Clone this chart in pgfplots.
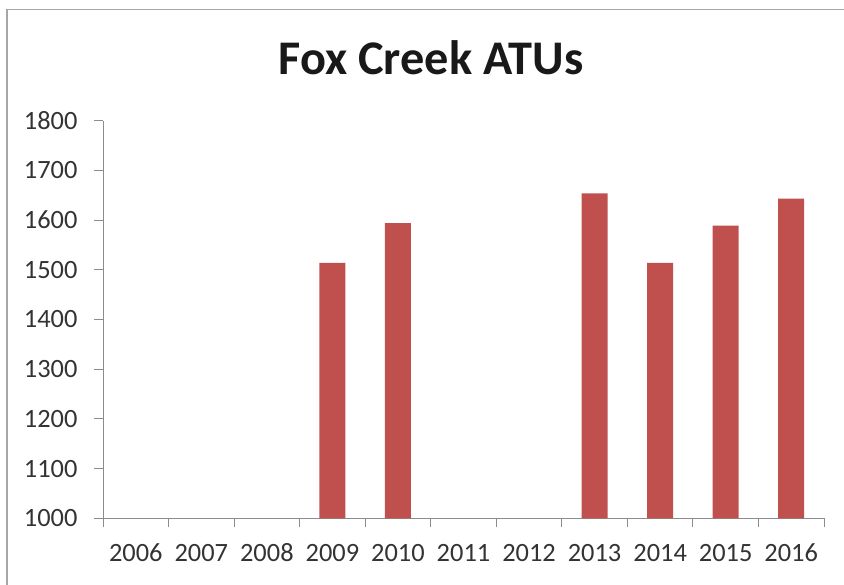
\documentclass[border=0pt]{standalone}
\usepackage{fontspec}
\setmainfont{Carlito}
\usepackage{pgfplots}
\pgfplotsset{compat=1.18}
\definecolor{barred}{HTML}{C0504D}
\definecolor{axisgray}{HTML}{8C8C8C}
\begin{document}
\begin{tikzpicture}[x=1bp,y=1bp]
\useasboundingbox (0,0) rectangle (844,585);
\draw[gray!70, line width=1.5bp] (7,0) -- (7,575.5) -- (844,575.5);
\node[font=\fontsize{48.5}{56}\selectfont\bfseries, anchor=base, text=black!90] at (431,510) {Fox Creek ATUs};
\begin{axis}[
  at={(103bp,66.7bp)}, anchor=south west,
  scale only axis, width=721bp, height=397.6bp,
  xmin=-0.5, xmax=10.5, ymin=1000, ymax=1800,
  ytick={1000,1100,...,1800},
  xtick={-0.5,0.5,...,10.5},
  xticklabels={2006,2007,2008,2009,2010,2011,2012,2013,2014,2015,2016,{}},
  axis x line*=bottom, axis y line*=left,
  axis line style={-, axisgray, line width=1bp},
  tick align=outside,
  tick style={axisgray, line width=1bp},
  major tick length=9bp,
  tick label style={font=\fontsize{26.5}{30}\selectfont, text=black!80},
  xticklabel style={text height=18bp, text depth=0bp, xshift=32.77bp, yshift=-13bp},
  yticklabel style={xshift=-13bp},
  /pgf/number format/assume math mode=true,
  /pgf/number format/1000 sep={},
  ybar, bar width=26bp,
  clip=true,
]
\addplot[fill=barred, draw=none] coordinates {(3,1514) (4,1594) (7,1654) (8,1514) (9,1589) (10,1643)};
\end{axis}
\end{tikzpicture}
\end{document}
